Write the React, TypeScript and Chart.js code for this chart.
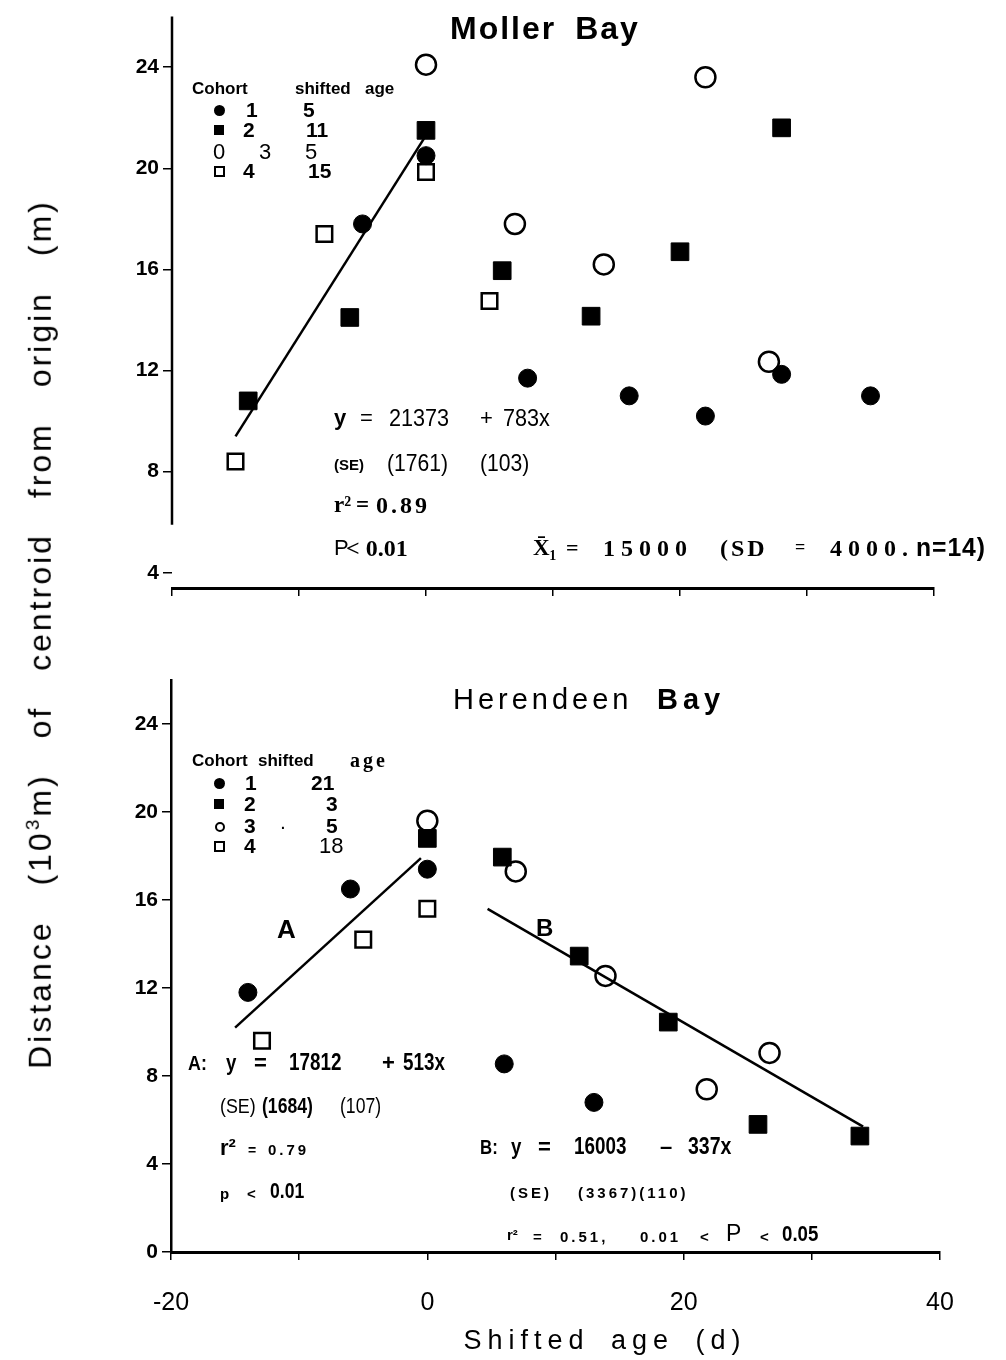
import React, { useEffect, useRef } from 'react';
import { Chart, registerables } from 'chart.js';
Chart.register(...registerables);

// ---------------- data ----------------
const xTickValues = [-20, -10, 0, 10, 20, 30, 40];
const xTickLabels = ['-20', '', '0', '', '20', '', '40'];
const mollerYTicks = [4, 8, 12, 16, 20, 24];
const herendeenYTicks = [0, 4, 8, 12, 16, 20, 24];

// Moller Bay
const mollerC1X = [-5, 0, 8, 16, 22, 28, 35];
const mollerC1Y = [17.8, 20.5, 11.7, 11.0, 10.2, 11.85, 11.0];
const mollerC2X = [-14, -6, 0, 6, 13, 20, 28];
const mollerC2Y = [10.8, 14.1, 21.5, 15.95, 14.15, 16.7, 21.6];
const mollerC3X = [0, 7, 14, 22, 27];
const mollerC3Y = [24.1, 17.8, 16.2, 23.6, 12.35];
const mollerC4X = [-15, -8, 0, 5];
const mollerC4Y = [8.4, 17.4, 19.85, 14.75];
const mollerFitX = [-15, 0];
const mollerFitY = [9.4, 21.3];

// Herendeen Bay
const herC1X = [-14, -6, 0, 6, 13];
const herC1Y = [11.8, 16.5, 17.4, 8.55, 6.8];
const herC2X = [0, 5.85, 11.85, 18.8, 25.8, 33.75];
const herC2Y = [18.8, 17.95, 13.45, 10.45, 5.8, 5.27];
const herC3X = [0, 6.9, 13.9, 21.8, 26.7];
const herC3Y = [19.6, 17.3, 12.55, 7.4, 9.05];
const herC4X = [-12.9, -5, 0];
const herC4Y = [9.6, 14.2, 15.6];
const herFitAX = [-15, -0.5];
const herFitAY = [10.2, 17.9];
const herFitBX = [4.7, 34];
const herFitBY = [15.6, 5.7];

// ---------------- helpers ----------------
const pts = (xs: number[], ys: number[]) => xs.map((x, i) => ({ x, y: ys[i] }));
const SANS = '"Liberation Sans", Arial, sans-serif';
const SERIF = '"Liberation Serif", "Times New Roman", serif';

function cohortSets(c1x, c1y, c2x, c2y, c3x, c3y, c4x, c4y) {
  return [
    { label: 'Cohort 1', data: pts(c1x, c1y), pointStyle: 'circle', pointRadius: 9, backgroundColor: '#000', borderColor: '#000', borderWidth: 1, order: 1 },
    { label: 'Cohort 2', data: pts(c2x, c2y), pointStyle: 'rect', pointRadius: 12.5, backgroundColor: '#000', borderColor: '#000', borderWidth: 1, order: 2 },
    { label: 'Cohort 3', data: pts(c3x, c3y), pointStyle: 'circle', pointRadius: 10, backgroundColor: 'rgba(0,0,0,0)', borderColor: '#000', borderWidth: 2.5, order: 3 },
    { label: 'Cohort 4', data: pts(c4x, c4y), pointStyle: 'rect', pointRadius: 11, backgroundColor: '#fff', borderColor: '#000', borderWidth: 2.5, order: 4 },
  ];
}

function fitSet(xs, ys) {
  return { label: 'fit', data: pts(xs, ys), showLine: true, pointRadius: 0, borderColor: '#000', borderWidth: 2.5, fill: false, order: 0 };
}

// draws a y-axis line that stops short of the x axis (broken axis look)
const brokenAxisPlugin = {
  id: 'brokenAxis',
  afterDraw(chart) {
    const { ctx, chartArea, scales } = chart;
    const yEnd = scales.y.getPixelForValue(5.9);
    ctx.save();
    ctx.strokeStyle = '#000';
    ctx.lineWidth = 2.5;
    ctx.beginPath();
    ctx.moveTo(chartArea.left, chartArea.top);
    ctx.lineTo(chartArea.left, yEnd);
    ctx.stroke();
    ctx.restore();
  },
};

function makeConfig(datasets, yMin, yMax, yTicks, yWidth, xHeight, padding, showXLabels, brokenY) {
  return {
    type: 'scatter',
    data: { datasets },
    plugins: brokenY ? [brokenAxisPlugin] : [],
    options: {
      animation: false,
      responsive: false,
      events: [],
      layout: { padding },
      plugins: { legend: { display: false }, tooltip: { enabled: false }, title: { display: false } },
      scales: {
        x: {
          type: 'linear',
          min: -20,
          max: 40,
          afterBuildTicks: (s) => { s.ticks = xTickValues.map((v) => ({ value: v })); },
          afterFit: (s) => { s.height = xHeight; },
          ticks: {
            autoSkip: false,
            maxRotation: 0,
            padding: 28,
            color: '#000',
            font: { family: SANS, size: 25 },
            callback: (v, i) => (showXLabels ? xTickLabels[i] : ''),
          },
          grid: { drawOnChartArea: false, color: '#000', lineWidth: 1.5, tickLength: 8 },
          border: { color: '#000', width: 3 },
        },
        y: {
          type: 'linear',
          min: yMin,
          max: yMax,
          afterBuildTicks: (s) => { s.ticks = yTicks.map((v) => ({ value: v })); },
          afterFit: (s) => { s.width = yWidth; },
          ticks: {
            padding: 4,
            color: '#000',
            font: { family: SANS, size: 21, weight: 'bold' },
          },
          grid: { drawOnChartArea: false, color: '#000', lineWidth: 1.5, tickLength: 9 },
          border: { display: !brokenY, color: '#000', width: 2.5 },
        },
      },
    },
  };
}

function ChartCanvas({ config, left, top, width, height }) {
  const ref = useRef(null);
  useEffect(() => {
    const chart = new Chart(ref.current, config);
    return () => chart.destroy();
  }, []);
  return (
    <canvas
      ref={ref}
      width={width}
      height={height}
      style={{ position: 'absolute', left, top, width, height, display: 'block' }}
    />
  );
}

function Txt({ x, y, s = 20, w = 'normal', f = SANS, ls = 0, sx = 1, ws = 0, children }) {
  return (
    <div
      style={{
        position: 'absolute',
        left: x,
        top: y - s * 0.6,
        fontSize: s,
        lineHeight: 1.2,
        fontFamily: f,
        fontWeight: w,
        letterSpacing: ls,
        wordSpacing: ws,
        whiteSpace: 'nowrap',
        color: '#000',
        transform: sx !== 1 ? `scaleX(${sx})` : undefined,
        transformOrigin: 'left center',
      }}
    >
      {children}
    </div>
  );
}

function Sym({ x, y, kind, size = 10 }) {
  const base = { position: 'absolute', left: x - size / 2, top: y - size / 2, width: size, height: size, boxSizing: 'border-box' };
  if (kind === 'dot') return <div style={{ ...base, background: '#000', borderRadius: '50%' }} />;
  if (kind === 'sq') return <div style={{ ...base, background: '#000' }} />;
  if (kind === 'osq') return <div style={{ ...base, border: '2.5px solid #000', background: '#fff' }} />;
  return <div style={{ ...base, border: '2.5px solid #000', borderRadius: '50%' }} />;
}

export default function App() {
  const topConfig = makeConfig(
    [
      ...cohortSets(mollerC1X, mollerC1Y, mollerC2X, mollerC2Y, mollerC3X, mollerC3Y, mollerC4X, mollerC4Y),
      fitSet(mollerFitX, mollerFitY),
    ],
    3.4, 26.0, mollerYTicks, 172, 32, { top: 9, right: 72, left: 0, bottom: 0 }, false, true
  );
  const bottomConfig = makeConfig(
    [
      ...cohortSets(herC1X, herC1Y, herC2X, herC2Y, herC3X, herC3Y, herC4X, herC4Y),
      fitSet(herFitAX, herFitAY),
      fitSet(herFitBX, herFitBY),
    ],
    0, 26, herendeenYTicks, 171, 108, { top: 60, right: 66, left: 0, bottom: 0 }, true, false
  );

  return (
    <div style={{ position: 'absolute', left: 0, top: 0, width: 1006, height: 1360, background: '#fff', overflow: 'hidden' }}>
      <ChartCanvas config={topConfig} left={0} top={0} width={1006} height={620} />
      <ChartCanvas config={bottomConfig} left={0} top={620} width={1006} height={740} />

      {/* shared y-axis title */}
      <div
        style={{
          position: 'absolute', left: 40, top: 634,
          transform: 'translate(-50%, -50%) rotate(-90deg)',
          fontFamily: SANS, fontSize: 32, letterSpacing: 3, wordSpacing: 23,
          whiteSpace: 'nowrap', color: '#000', lineHeight: 1.2,
        }}
      >
        Distance (10<sup style={{ fontSize: 19 }}>3</sup>m) of centroid from origin (m)
      </div>

      {/* x-axis title */}
      <div
        style={{
          position: 'absolute', left: 605, top: 1340,
          transform: 'translate(-50%, -50%)',
          fontFamily: SANS, fontSize: 27, letterSpacing: 6, wordSpacing: 8,
          whiteSpace: 'nowrap', color: '#000', lineHeight: 1.2,
        }}
      >
        Shifted age (d)
      </div>

      {/* ---------- Moller Bay ---------- */}
      <Txt x={450} y={28} s={32} w="bold" ls={2} ws={8}>Moller Bay</Txt>

      <Txt x={192} y={89} s={17} w="bold">Cohort</Txt>
      <Txt x={295} y={89} s={17} w="bold">shifted</Txt>
      <Txt x={365} y={89} s={17} w="bold">age</Txt>
      <Sym x={219} y={110} kind="dot" size={11} />
      <Txt x={246} y={110} s={21} w="bold">1</Txt>
      <Txt x={303} y={110} s={21} w="bold">5</Txt>
      <Sym x={219} y={130} kind="sq" size={10} />
      <Txt x={243} y={130} s={21} w="bold">2</Txt>
      <Txt x={306} y={130} s={21} w="bold">11</Txt>
      <Txt x={213} y={152} s={22}>0</Txt>
      <Txt x={259} y={152} s={22}>3</Txt>
      <Txt x={305} y={152} s={22}>5</Txt>
      <Sym x={219} y={171} kind="osq" size={11} />
      <Txt x={243} y={171} s={21} w="bold">4</Txt>
      <Txt x={308} y={171} s={21} w="bold">15</Txt>

      <Txt x={334} y={418} s={22} w="bold">y</Txt>
      <Txt x={360} y={418} s={22}>=</Txt>
      <Txt x={389} y={418} s={24} sx={0.9}>21373</Txt>
      <Txt x={480} y={418} s={22}>+</Txt>
      <Txt x={503} y={418} s={24} sx={0.9}>783x</Txt>

      <Txt x={334} y={465} s={15} w="bold">(SE)</Txt>
      <Txt x={387} y={463} s={24} sx={0.88}>(1761)</Txt>
      <Txt x={480} y={463} s={24} sx={0.88}>(103)</Txt>

      <Txt x={334} y={505} s={23} w="bold" f={SERIF}>r²</Txt>
      <Txt x={356} y={505} s={23} w="bold" f={SERIF}>=</Txt>
      <Txt x={376} y={505} s={24} w="bold" f={SERIF} ls={3}>0.89</Txt>

      <Txt x={334} y={548} s={22}>P</Txt>
      <Txt x={346} y={548} s={24} w="bold" f={SERIF}>&lt; 0.01</Txt>
      <Txt x={533} y={548} s={23} w="bold" f={SERIF}>X̄₁</Txt>
      <Txt x={566} y={548} s={22} w="bold" f={SERIF}>=</Txt>
      <Txt x={603} y={548} s={24} w="bold" f={SERIF} ls={6}>15000</Txt>
      <Txt x={720} y={548} s={24} w="bold" f={SERIF} ls={3}>(SD</Txt>
      <Txt x={795} y={548} s={18} w="bold" f={SERIF}>=</Txt>
      <Txt x={830} y={548} s={24} w="bold" f={SERIF} ls={6}>4000.</Txt>
      <Txt x={916} y={548} s={26} w="bold" sx={0.95} ls={1}>n=14)</Txt>

      {/* ---------- Herendeen Bay ---------- */}
      <Txt x={453} y={699} s={29} ls={4}>Herendeen</Txt>
      <Txt x={657} y={699} s={29} w="bold" ls={5}>Bay</Txt>

      <Txt x={192} y={761} s={17} w="bold">Cohort</Txt>
      <Txt x={258} y={761} s={17} w="bold">shifted</Txt>
      <Txt x={350} y={760} s={20} w="bold" f={SERIF} ls={3}>age</Txt>
      <Sym x={219} y={783} kind="dot" size={11} />
      <Txt x={245} y={783} s={21} w="bold">1</Txt>
      <Txt x={311} y={783} s={21} w="bold">21</Txt>
      <Sym x={219} y={804} kind="sq" size={10} />
      <Txt x={244} y={804} s={21} w="bold">2</Txt>
      <Txt x={326} y={804} s={21} w="bold">3</Txt>
      <Sym x={220} y={827} kind="oc" size={10} />
      <Txt x={244} y={826} s={21} w="bold">3</Txt>
      <Txt x={281} y={824} s={14} w="bold">.</Txt>
      <Txt x={326} y={826} s={21} w="bold">5</Txt>
      <Sym x={219} y={846} kind="osq" size={11} />
      <Txt x={244} y={846} s={21} w="bold">4</Txt>
      <Txt x={319} y={846} s={22}>18</Txt>

      <Txt x={277} y={930} s={26} w="bold">A</Txt>
      <Txt x={536} y={928} s={24} w="bold">B</Txt>

      <Txt x={188} y={1063} s={21} w="bold" sx={0.85}>A:</Txt>
      <Txt x={226} y={1063} s={22} w="bold" sx={0.85}>y</Txt>
      <Txt x={254} y={1063} s={22} w="bold">=</Txt>
      <Txt x={289} y={1063} s={23} w="bold" sx={0.82}>17812</Txt>
      <Txt x={382} y={1063} s={22} w="bold">+</Txt>
      <Txt x={403} y={1063} s={23} w="bold" sx={0.82}>513x</Txt>

      <Txt x={220} y={1106} s={21} sx={0.85}>(SE)</Txt>
      <Txt x={262} y={1106} s={22} w="bold" sx={0.8}>(1684)</Txt>
      <Txt x={340} y={1106} s={22} sx={0.8}>(107)</Txt>

      <Txt x={220} y={1148} s={22} w="bold">r²</Txt>
      <Txt x={248} y={1150} s={14} w="bold">=</Txt>
      <Txt x={268} y={1150} s={15} w="bold" ls={3}>0.79</Txt>

      <Txt x={220} y={1194} s={15} w="bold">p</Txt>
      <Txt x={247} y={1194} s={15} w="bold">&lt;</Txt>
      <Txt x={270} y={1191} s={22} w="bold" sx={0.8}>0.01</Txt>

      <Txt x={480} y={1147} s={21} w="bold" sx={0.8}>B:</Txt>
      <Txt x={511} y={1147} s={22} w="bold" sx={0.85}>y</Txt>
      <Txt x={538} y={1147} s={22} w="bold">=</Txt>
      <Txt x={574} y={1147} s={23} w="bold" sx={0.82}>16003</Txt>
      <Txt x={660} y={1147} s={22} w="bold">–</Txt>
      <Txt x={688} y={1147} s={23} w="bold" sx={0.85}>337x</Txt>

      <Txt x={510} y={1193} s={15} w="bold" ls={3}>(SE)</Txt>
      <Txt x={578} y={1193} s={15} w="bold" ls={3}>(3367)(110)</Txt>

      <Txt x={507} y={1235} s={15} w="bold">r²</Txt>
      <Txt x={533} y={1237} s={15} w="bold">=</Txt>
      <Txt x={560} y={1237} s={15} w="bold" ls={3}>0.51,</Txt>
      <Txt x={640} y={1237} s={15} w="bold" ls={3}>0.01</Txt>
      <Txt x={700} y={1237} s={15} w="bold">&lt;</Txt>
      <Txt x={726} y={1234} s={23}>P</Txt>
      <Txt x={760} y={1237} s={15} w="bold">&lt;</Txt>
      <Txt x={782} y={1234} s={22} w="bold" sx={0.85}>0.05</Txt>
    </div>
  );
}
